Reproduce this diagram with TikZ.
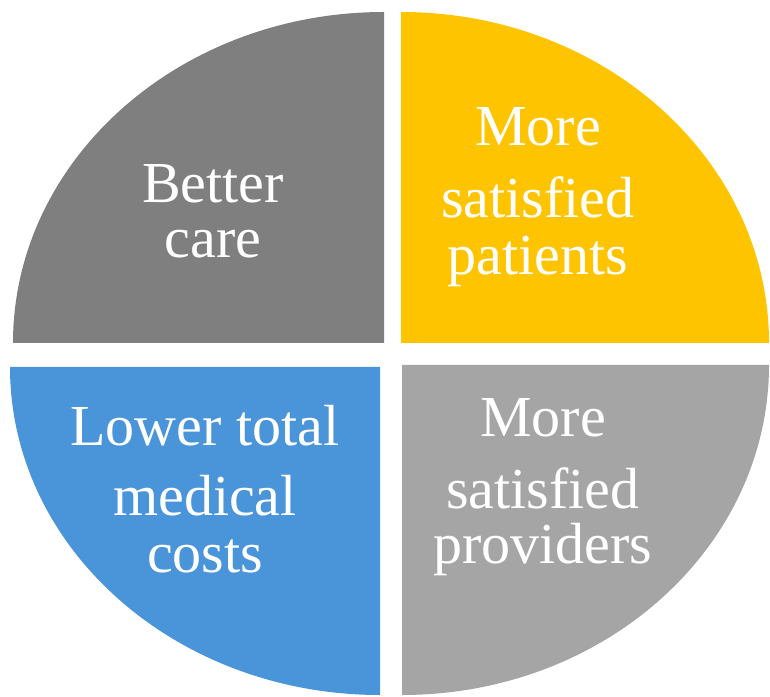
\documentclass[tikz,border=0pt]{standalone}
\usepackage{fontspec}
\setmainfont{Liberation Serif}
\definecolor{qdark}{HTML}{7F7F7F}
\definecolor{qgold}{HTML}{FFC400}
\definecolor{qblue}{HTML}{4A95D9}
\definecolor{qlight}{HTML}{A5A5A5}
\tikzset{
  quad/.style={draw=none},
  qlabel/.style={text=white, align=center, anchor=base, inner sep=0pt,
    font=\fontsize{58}{56}\selectfont}
}
\begin{document}
\begin{tikzpicture}[x=1pt,y=1pt]
\useasboundingbox (0,0) rectangle (770,696);
% quadrants
\fill[quad,qdark] (384,353) -- (13,353) arc[start angle=180,end angle=90,x radius=371,y radius=331] -- cycle;
\fill[quad,qgold] (401,353) -- (401,684) arc[start angle=90,end angle=0,x radius=368,y radius=331] -- cycle;
\fill[quad,qblue] (380,329) -- (10,329) arc[start angle=180,end angle=270,x radius=370,y radius=328] -- cycle;
\fill[quad,qlight] (402,331) -- (769,331) arc[start angle=0,end angle=-90,x radius=367,y radius=330] -- cycle;
% labels (base anchor = baseline of the last line)
\node[qlabel] (better) at (213,438) {Better\\[-1pt]care};
\node[qlabel] (patients) at (538,421) {More\\[16pt]satisfied\\[1pt]patients};
\node[qlabel] (costs) at (205,124) {Lower total\\[14pt]medical\\[1pt]costs};
\node[qlabel] (providers) at (543,133) {More\\[15pt]satisfied\\[-1pt]providers};
\end{tikzpicture}
\end{document}
